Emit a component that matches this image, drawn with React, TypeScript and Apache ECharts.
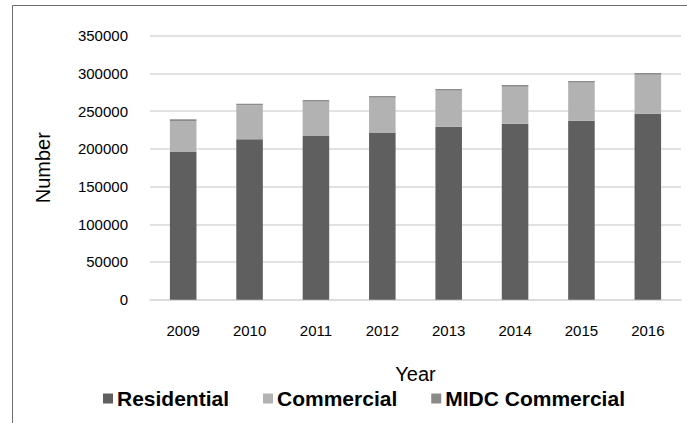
import React, { useEffect, useRef } from "react";
import * as echarts from "echarts";

const years = ["2009", "2010", "2011", "2012", "2013", "2014", "2015", "2016"];
const residential = [195800, 212700, 217000, 221000, 229400, 233300, 237300, 246600];
const commercial = [41100, 45000, 45500, 46800, 47700, 49100, 50400, 51700];
const midcCommercial = [2300, 2200, 2200, 2200, 2200, 2200, 2200, 2200];

const FONT = "'Liberation Sans', Arial, sans-serif";

export default function App() {
  const ref = useRef<HTMLDivElement>(null);
  useEffect(() => {
    document.body.style.margin = "0";
    const chart = echarts.init(ref.current!, null, { renderer: "svg" });
    const option = {
      animation: false,
      backgroundColor: "#ffffff",
      textStyle: { fontFamily: FONT },
      graphic: [
        {
          type: "rect",
          shape: { x: 12.5, y: 5.5, width: 700, height: 500 },
          style: { fill: "none", stroke: "#6b6b6b", lineWidth: 1 },
          silent: true,
        },
      ],
      grid: { left: 150, right: 6, top: 35.7, bottom: 123.3, containLabel: false },
      legend: {
        left: 98,
        top: 383,
        icon: "rect",
        itemWidth: 10,
        itemHeight: 10,
        itemGap: 34,
        textStyle: { fontFamily: FONT, fontSize: 21, fontWeight: "bold", color: "#000", padding: [0, 0, 0, -1] },
        data: ["Residential", "Commercial", "MIDC Commercial"],
      },
      xAxis: {
        type: "category",
        data: years,
        name: "Year",
        nameLocation: "middle",
        nameGap: 64,
        nameTextStyle: { fontFamily: FONT, fontSize: 20, color: "#000" },
        axisLine: { show: true, lineStyle: { color: "#d9d9d9", width: 1.5 } },
        axisTick: { show: false },
        axisLabel: { margin: 23, fontFamily: FONT, fontSize: 15, color: "#000" },
      },
      yAxis: {
        type: "value",
        min: 0,
        max: 350000,
        interval: 50000,
        name: "Number",
        nameLocation: "middle",
        nameGap: 97,
        nameRotate: 90,
        nameTextStyle: { fontFamily: FONT, fontSize: 20, color: "#000" },
        axisLine: { show: false },
        axisTick: { show: false },
        splitLine: { lineStyle: { color: "#d9d9d9", width: 1.5 } },
        axisLabel: {
          margin: 22,
          fontFamily: FONT,
          fontSize: 15,
          color: "#000",
          formatter: (v: number) => String(v),
        },
      },
      series: [
        {
          name: "Residential",
          type: "bar",
          stack: "total",
          data: residential,
          barCategoryGap: "60%",
          itemStyle: { color: "#5f5f5f" },
        },
        {
          name: "Commercial",
          type: "bar",
          stack: "total",
          data: commercial,
          barCategoryGap: "60%",
          itemStyle: { color: "#b2b2b2" },
        },
        {
          name: "MIDC Commercial",
          type: "bar",
          stack: "total",
          data: midcCommercial,
          barCategoryGap: "60%",
          itemStyle: { color: "#8a8a8a" },
        },
      ],
    };
    chart.setOption(option as any);
    return () => chart.dispose();
  }, []);
  return (
    <div
      ref={ref}
      style={{ position: "absolute", left: 0, top: 0, width: 687, height: 423, background: "#fff" }}
    />
  );
}
